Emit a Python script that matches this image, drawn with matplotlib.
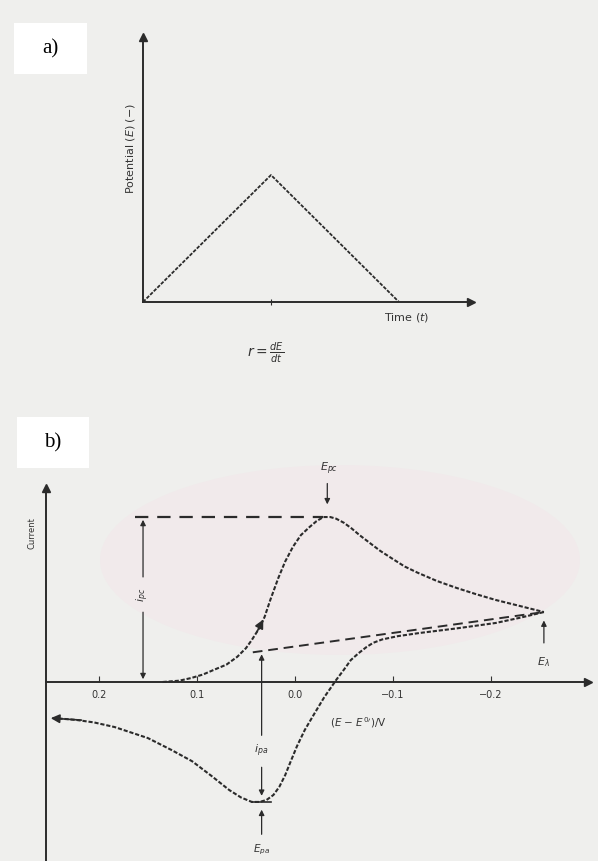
import matplotlib
matplotlib.use("Agg")
import matplotlib.pyplot as plt
from matplotlib.patches import Rectangle, Ellipse

# ---- panel a: triangular potential sweep ----
sweep_time = [0.0, 1.0, 2.0]
sweep_potential = [0.0, 1.0, 0.0]

# ---- panel b: cyclic voltammogram, (E - E0')/V vs current (normalised to i_pc) ----
fwd_E = [0.135, 0.118, 0.106, 0.094, 0.083, 0.070, 0.059, 0.050, 0.044, 0.036,
         0.031, 0.025, 0.017, 0.010, 0.002, -0.006, -0.015, -0.022, -0.029, -0.036,
         -0.042, -0.050, -0.058, -0.066, -0.077, -0.087, -0.100, -0.112, -0.125, -0.145,
         -0.165, -0.185, -0.205, -0.230, -0.254]
fwd_i = [0.0, 0.008, 0.024, 0.045, 0.073, 0.105, 0.152, 0.205, 0.255, 0.33,
         0.394, 0.50, 0.63, 0.73, 0.82, 0.89, 0.94, 0.975, 1.0, 1.0,
         0.99, 0.965, 0.93, 0.89, 0.84, 0.795, 0.745, 0.70, 0.663, 0.612,
         0.570, 0.532, 0.497, 0.46, 0.424]
rev_E = [-0.254, -0.230, -0.205, -0.165, -0.127, -0.105, -0.089, -0.080, -0.073,
         -0.065, -0.057, -0.050, -0.042, -0.036, -0.030, -0.020, -0.010, -0.002,
         0.005, 0.010, 0.016, 0.022, 0.029, 0.036, 0.044, 0.055, 0.067, 0.085,
         0.105, 0.126, 0.150, 0.184, 0.205, 0.223, 0.247]
rev_i = [0.424, 0.39, 0.358, 0.325, 0.297, 0.278, 0.258, 0.238, 0.212,
         0.175, 0.133, 0.075, 0.012, -0.04, -0.091, -0.19, -0.291, -0.39,
         -0.491, -0.565, -0.636, -0.685, -0.715, -0.727, -0.727, -0.70, -0.655, -0.57,
         -0.48, -0.412, -0.34, -0.273, -0.245, -0.230, -0.218]
# extrapolated baseline for the reverse peak
base_E = [0.043, -0.254]
base_i = [0.18, 0.424]
E_ticks = [0.2, 0.1, 0.0, -0.1, -0.2]
E_tick_labels = ["0.2", "0.1", "0.0", "\u22120.1", "\u22120.2"]

E_pc, i_pc = -0.029, 1.0
E_pa, i_pa = 0.036, -0.727
E_lambda = -0.254

BG = "#efefed"
INK = "#2b2b2b"
W, H = 598, 861


def rect(x0, y0, x1, y1):
    # pixel box (top-left origin) -> figure fraction
    return [x0 / W, 1 - y1 / H, (x1 - x0) / W, (y1 - y0) / H]


fig = plt.figure(figsize=(W / 100, H / 100), dpi=100)
fig.patch.set_facecolor(BG)

# faint watermark tint behind panel b (kept below the axes)
fig.patches.append(Ellipse((340 / W, 1 - 560 / H), 480 / W, 190 / H,
                           transform=fig.transFigure, facecolor="#f1eaeb",
                           edgecolor="none", zorder=-3))

# panel labels
for (x0, y0, x1, y1), lbl in [((14, 23, 87, 74), "a)"), ((17, 417, 89, 468), "b)")]:
    fig.patches.append(Rectangle((x0 / W, 1 - y1 / H), (x1 - x0) / W, (y1 - y0) / H,
                                 transform=fig.transFigure, facecolor="white",
                                 edgecolor="none", zorder=-2))
    fig.text((x0 + x1) / 2 / W, 1 - (y0 + y1) / 2 / H, lbl, ha="center", va="center",
             fontsize=15, family="Liberation Serif", color="black")

# ---------------- panel a ----------------
ax = fig.add_axes(rect(143, 37, 471, 302))
ax.patch.set_alpha(0)
ax.plot(sweep_time, sweep_potential, color=INK, lw=1.3, ls=(0, (2, 0.8)))
ax.set_xlim(0, 2.5625)
ax.set_ylim(0, 2.087)
for s in ("top", "right"):
    ax.spines[s].set_visible(False)
for s in ("left", "bottom"):
    ax.spines[s].set_color(INK)
    ax.spines[s].set_linewidth(1.4)
ax.plot(1, 0, ">", color=INK, ms=6, transform=ax.transAxes, clip_on=False)
ax.plot(0, 1, "^", color=INK, ms=6, transform=ax.transAxes, clip_on=False)
ax.set_xticks([1])
ax.set_xticklabels([])
ax.set_yticks([])
ax.tick_params(axis="x", direction="inout", length=5, color=INK)
ax.text(2.06, -0.125, "Time ($t$)", fontsize=8, color="#333", ha="center", va="center")
ax.text(-0.1, 1.21, "Potential ($E$) (\u2212)", fontsize=8, color="#333",
        rotation=90, ha="center", va="center", transform=ax.transData)
ax.text(0.955, -0.4, r"$r = \frac{dE}{dt}$", fontsize=10, color="#333",
        ha="center", va="center")

# ---------------- panel b ----------------
bx = fig.add_axes(rect(46, 488, 588, 861))
bx.patch.set_alpha(0)
bx.set_xlim(0.254, -0.299)
bx.set_ylim(-1.085, 1.176)
curve_style = dict(color=INK, lw=1.5, ls=(0, (2, 0.9)))
bx.plot(fwd_E, fwd_i, **curve_style)
bx.plot(rev_E, rev_i, **curve_style)
bx.plot(base_E, base_i, color=INK, lw=1.4, ls=(0, (5, 3)))
bx.plot([0.163, E_pc], [i_pc, i_pc], color=INK, lw=1.6, ls=(0, (6, 4)))

for s in ("top", "right"):
    bx.spines[s].set_visible(False)
bx.spines["bottom"].set_position(("data", 0))
for s in ("left", "bottom"):
    bx.spines[s].set_color(INK)
    bx.spines[s].set_linewidth(1.4)
bx.plot(1, 0, ">", color=INK, ms=6, transform=bx.get_yaxis_transform(), clip_on=False)
bx.plot(0, 1, "^", color=INK, ms=6, transform=bx.transAxes, clip_on=False)
bx.set_xticks(E_ticks)
bx.set_xticklabels(E_tick_labels)
bx.set_yticks([])
bx.tick_params(axis="x", direction="in", length=4, pad=6, labelsize=7,
               colors="#333")
bx.text(-0.036, -0.245, "($E$ \u2212 $E^{0\\prime}$)/V", fontsize=7.5, color="#333",
        ha="left", va="center")
bx.text(0.268, 0.9, "Current", fontsize=6, color="#333", rotation=90,
        ha="center", va="center", clip_on=False)

arrow = dict(arrowstyle="-|>", color=INK, lw=0.9, mutation_scale=8)
head = dict(arrowstyle="-|>", color=INK, lw=1.2, mutation_scale=13)
# direction arrows on the curves
bx.annotate("", xy=(0.031, 0.394), xytext=(0.040, 0.29), arrowprops=head)
bx.annotate("", xy=(0.252, -0.218), xytext=(0.215, -0.232), arrowprops=head,
            annotation_clip=False)

# i_pc
x_ipc = 0.155
bx.annotate("", xy=(x_ipc, i_pc), xytext=(x_ipc, 0.62), arrowprops=arrow)
bx.annotate("", xy=(x_ipc, 0.0), xytext=(x_ipc, 0.44), arrowprops=arrow)
bx.text(x_ipc, 0.53, "$i_{pc}$", fontsize=8, rotation=90, ha="center", va="center", color="#333")
# E_pc
bx.annotate("", xy=(E_pc - 0.004, 1.06), xytext=(E_pc - 0.004, 1.22), arrowprops=arrow,
            annotation_clip=False)
bx.text(E_pc - 0.006, 1.29, "$E_{pc}$", fontsize=8, ha="center", va="center", color="#333",
        clip_on=False)
# i_pa / E_pa
x_ipa = 0.034
bx.annotate("", xy=(x_ipa, 0.185), xytext=(x_ipa, -0.34), arrowprops=arrow)
bx.text(x_ipa, -0.42, "$i_{pa}$", fontsize=8, ha="center", va="center", color="#333")
bx.annotate("", xy=(x_ipa, i_pa + 0.02), xytext=(x_ipa, -0.50), arrowprops=arrow)
bx.annotate("", xy=(x_ipa, i_pa - 0.03), xytext=(x_ipa, -0.94), arrowprops=arrow)
bx.plot([x_ipa + 0.01, x_ipa - 0.01], [i_pa, i_pa], color=INK, lw=1.2)
bx.text(x_ipa, -1.02, "$E_{pa}$", fontsize=7.5, ha="center", va="center", color="#333")
# E_lambda
bx.annotate("", xy=(E_lambda, 0.39), xytext=(E_lambda, 0.22), arrowprops=arrow)
bx.text(E_lambda, 0.12, r"$E_{\lambda}$", fontsize=8, ha="center", va="center", color="#333")

fig.savefig("out.png", dpi=100, facecolor=fig.get_facecolor())
